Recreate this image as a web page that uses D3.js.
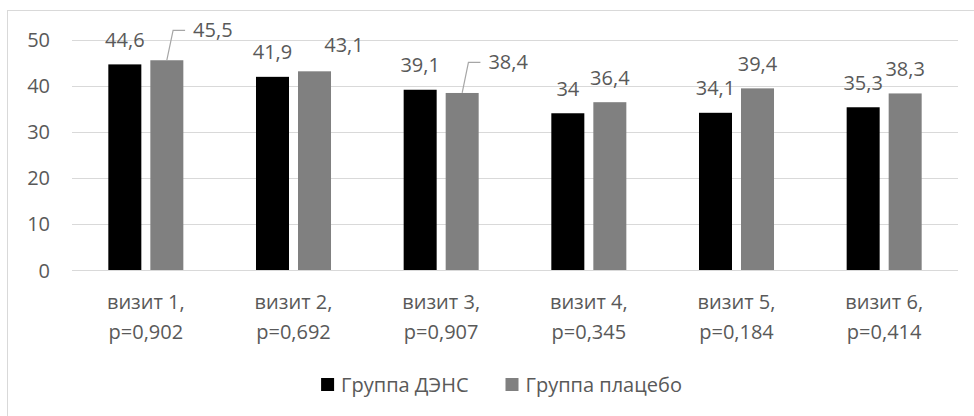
<!DOCTYPE html>
<html>
<head>
<meta charset="utf-8">
<script src="https://cdn.jsdelivr.net/npm/d3@7"></script>
<style>
  html, body { margin: 0; padding: 0; background: #fff; }
  svg { display: block; }
  text { font-family: "Open Sans", sans-serif; fill: #595959; }
</style>
</head>
<body>
<svg id="chart" width="974" height="416"></svg>
<script>
// ---- data ----
const categories = ["визит 1", "визит 2", "визит 3", "визит 4", "визит 5", "визит 6"];
const pValues = ["p=0,902", "p=0,692", "p=0,907", "p=0,345", "p=0,184", "p=0,414"];
const seriesNames = ["Группа ДЭНС", "Группа плацебо"];
const densValues = [44.6, 41.9, 39.1, 34, 34.1, 35.3];
const placeboValues = [45.5, 43.1, 38.4, 36.4, 39.4, 38.3];
const yTicks = [0, 10, 20, 30, 40, 50];

// ---- layout / style (not data) ----
const colors = ["#000000", "#808080"];
const textColor = "#595959";
const gridColor = "#d9d9d9";
const fontSize = 20;
// manual data-label nudges [dx, dy, leaderLine] per series, per category
const labelNudges = [
  [[0,0,false],[0,0,false],[0,0,false],[0,0,false],[0,0,false],[0,0,false]],
  [[46,-5.3,true],[29.5,-2,false],[46,-6,true],[0,0,false],[0,0,false],[0,0,false]]
];

const seriesValues = [densValues, placeboValues];
const svg = d3.select("#chart");

// outer chart border (extends past right/bottom edges)
svg.append("rect")
  .attr("x", 7.5).attr("y", 10.5)
  .attr("width", 1000).attr("height", 430)
  .attr("fill", "none").attr("stroke", gridColor).attr("stroke-width", 1);

const plotLeft = 72, plotRight = 958, plotTop = 39.5, plotBottom = 270;

const x0 = d3.scaleBand().domain(categories).range([plotLeft, plotRight]).paddingInner(0).paddingOuter(0);
const groupW = x0.bandwidth() * 0.508;
const x1 = d3.scaleBand().domain(seriesNames)
  .range([(x0.bandwidth() - groupW) / 2, (x0.bandwidth() + groupW) / 2])
  .paddingInner(0.2143).paddingOuter(0);
const y = d3.scaleLinear().domain([0, 50]).range([plotBottom, plotTop]);

// gridlines
const yAxis = d3.axisLeft(y).tickValues(yTicks).tickSize(-(plotRight - plotLeft)).tickPadding(22).tickFormat(d3.format("d"));
const gy = svg.append("g").attr("transform", `translate(${plotLeft},0)`).call(yAxis);
gy.select(".domain").remove();
gy.selectAll(".tick line").attr("stroke", gridColor).attr("stroke-width", 1)
  .attr("shape-rendering", "crispEdges");
gy.selectAll(".tick text")
  .attr("font-family", "Open Sans, sans-serif")
  .attr("font-size", fontSize)
  .attr("fill", textColor)
  .attr("dy", "0.35em");

// bars
const groups = svg.append("g").selectAll("g.cat")
  .data(categories)
  .join("g")
  .attr("class", "cat")
  .attr("transform", d => `translate(${x0(d)},0)`);

groups.selectAll("rect")
  .data((c, i) => seriesNames.map((s, si) => ({ s, si, i, v: seriesValues[si][i] })))
  .join("rect")
  .attr("x", d => x1(d.s))
  .attr("width", x1.bandwidth())
  .attr("y", d => y(d.v))
  .attr("height", d => y(0) - y(d.v))
  .attr("fill", d => colors[d.si]);

// data labels
const fmt = v => String(v).replace(".", ",");
const labelLayer = svg.append("g");
seriesNames.forEach((s, si) => {
  categories.forEach((c, i) => {
    const v = seriesValues[si][i];
    const cx = x0(c) + x1(s) + x1.bandwidth() / 2;
    const top = y(v);
    const [dx, dy, leader] = labelNudges[si][i];
    const lx = cx + dx, ly = top - 17.6 + dy;
    const t = labelLayer.append("text")
      .attr("x", lx).attr("y", ly)
      .attr("text-anchor", "middle")
      .attr("font-size", fontSize)
      .text(fmt(v));
    if (leader) {
      const w = t.node().getComputedTextLength();
      const left = lx - w / 2;
      const mid = ly - 7;
      labelLayer.append("path")
        .attr("d", d3.line()([[cx, top], [left - 20, mid], [left - 8, mid]]))
        .attr("fill", "none")
        .attr("stroke", "#a6a6a6")
        .attr("stroke-width", 1.2);
    }
  });
});

// category labels (two lines)
const catLayer = svg.append("g");
categories.forEach((c, i) => {
  const cx = x0(c) + x0.bandwidth() / 2;
  const t = catLayer.append("text")
    .attr("text-anchor", "middle")
    .attr("font-size", fontSize);
  t.append("tspan").attr("x", cx).attr("y", 309).text(c + ",");
  t.append("tspan").attr("x", cx).attr("y", 339).text(pValues[i]);
});

// legend
const legend = svg.append("g");
const items = seriesNames.map((s, si) => {
  const g = legend.append("g");
  g.append("rect").attr("width", 13).attr("height", 13).attr("y", 378).attr("fill", colors[si]);
  const t = g.append("text").attr("x", 20).attr("y", 391.5).attr("font-size", fontSize).text(s);
  return { g, w: 20 + t.node().getComputedTextLength() };
});
const gap = 37;
const totalW = items[0].w + gap + items[1].w;
let lx = 501.5 - totalW / 2;
items.forEach(it => {
  it.g.attr("transform", `translate(${lx},0)`);
  lx += it.w + gap;
});
</script>
</body>
</html>
